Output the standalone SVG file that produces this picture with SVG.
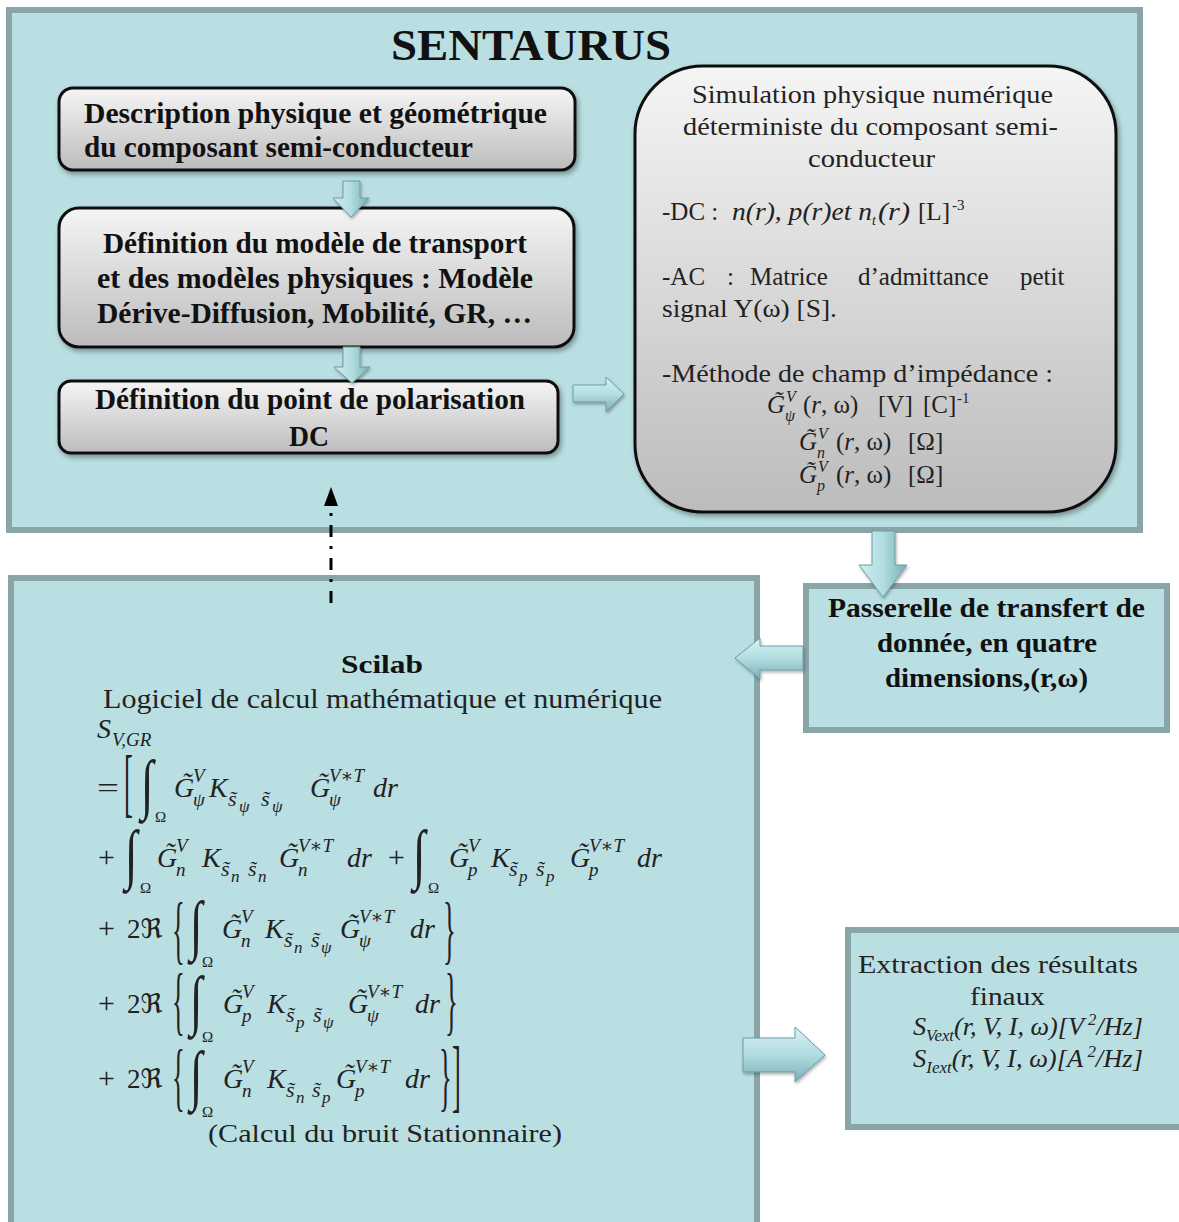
<svg xmlns="http://www.w3.org/2000/svg" width="1179" height="1222" viewBox="0 0 1179 1222">
<defs>
<style>
.cont{fill:#b9dfe2;stroke:#89a5a8;stroke-width:6}
.gbox{fill:url(#gGray);stroke:#111;stroke-width:3;filter:url(#sh)}
.bt{font-family:"Liberation Serif","DejaVu Serif",serif;font-weight:bold;fill:#111}
.rt{font-family:"Liberation Serif","DejaVu Serif",serif;fill:#222;font-size:25px}
.mi{font-family:"Liberation Serif","DejaVu Serif",serif;font-style:italic;font-size:28px;fill:#222}
.mu{font-family:"Liberation Serif","DejaVu Serif","DejaVu Sans",serif;font-size:27px;fill:#222}
.sp{font-family:"Liberation Serif","DejaVu Serif",serif;font-style:italic;font-size:19px;fill:#222}
.s2{font-family:"Liberation Serif","DejaVu Serif",serif;font-style:italic;font-size:22px;fill:#222}
.ss{font-family:"Liberation Serif","DejaVu Serif",serif;font-style:italic;font-size:17px;fill:#222}
.om{font-family:"Liberation Serif","DejaVu Serif",serif;font-size:15px;fill:#222}
.big{font-family:"Liberation Serif","DejaVu Serif",serif;fill:#222}
.ba{stroke:#6d9ea3;stroke-width:1;filter:url(#sh2)}
</style>
<linearGradient id="gGray" x1="0" y1="0" x2="0" y2="1">
<stop offset="0" stop-color="#f5f5f5"/><stop offset="1" stop-color="#bcbcbc"/>
</linearGradient>
<linearGradient id="gV" x1="0" y1="0" x2="1" y2="0">
<stop offset="0" stop-color="#cdeef0"/><stop offset="0.5" stop-color="#b2dde1"/><stop offset="1" stop-color="#78aeb3"/>
</linearGradient>
<linearGradient id="gH" x1="0" y1="0" x2="0" y2="1">
<stop offset="0" stop-color="#d6f2f4"/><stop offset="0.5" stop-color="#b2dde1"/><stop offset="1" stop-color="#7aafb4"/>
</linearGradient>
<filter id="sh" x="-10%" y="-10%" width="120%" height="130%">
<feDropShadow dx="2" dy="3" stdDeviation="2.5" flood-color="#000" flood-opacity="0.35"/>
</filter>
<filter id="sh2" x="-30%" y="-30%" width="160%" height="160%">
<feDropShadow dx="1" dy="2" stdDeviation="1.5" flood-color="#000" flood-opacity="0.3"/>
</filter>
</defs>
<rect width="1179" height="1222" fill="#fff"/>

<g id="sentaurus">
<rect class="cont" x="9" y="10" width="1131" height="520"/>
<text class="bt" x="391" y="60" font-size="44" textLength="280" lengthAdjust="spacingAndGlyphs">SENTAURUS</text>
</g>

<g id="scilab">
<rect class="cont" x="11" y="578" width="746" height="660"/>
<text class="bt" x="341" y="673" font-size="25" textLength="82" lengthAdjust="spacingAndGlyphs" fill="#222">Scilab</text>
<text class="rt" x="103" y="708" style="font-size:27px" textLength="559" lengthAdjust="spacingAndGlyphs">Logiciel de calcul mathématique et numérique</text>
<text class="mi" x="97" y="738">S</text><text class="sp" x="112" y="746">V,GR</text>
<!-- line 1 -->
<text class="mu" x="97" y="797" textLength="22" lengthAdjust="spacingAndGlyphs">=</text>
<text class="big" transform="translate(124,808) scale(0.7,2)" font-size="38">[</text>
<text class="big" transform="translate(141,806) scale(0.7,1)" font-size="66">∫</text>
<text class="om" x="155" y="822">Ω</text>
<text class="mi" x="174" y="797">G̃</text><text class="sp" x="193" y="782">V</text><text class="sp" x="193" y="806">ψ</text>
<text class="mi" x="209" y="797">K</text>
<text class="s2" x="228" y="806">s̃</text><text class="ss" x="239" y="812">ψ</text><text class="s2" x="261" y="806">s̃</text><text class="ss" x="272" y="812">ψ</text>
<text class="mi" x="310" y="797">G̃</text><text class="sp" x="329" y="782">V∗T</text><text class="sp" x="329" y="806">ψ</text>
<text class="mi" x="373" y="797">dr</text>
<!-- line 2 -->
<text class="mu" x="98" y="867" style="font-size:30px">+</text>
<text class="big" transform="translate(125,876) scale(0.7,1)" font-size="66">∫</text>
<text class="om" x="140" y="893">Ω</text>
<text class="mi" x="157" y="867">G̃</text><text class="sp" x="176" y="852">V</text><text class="sp" x="176" y="876">n</text>
<text class="mi" x="202" y="867">K</text>
<text class="s2" x="221" y="876">s̃</text><text class="ss" x="231" y="882">n</text><text class="s2" x="248" y="876">s̃</text><text class="ss" x="258" y="882">n</text>
<text class="mi" x="279" y="867">G̃</text><text class="sp" x="298" y="852">V∗T</text><text class="sp" x="298" y="876">n</text>
<text class="mi" x="347" y="867">dr</text>
<text class="mu" x="388" y="867" style="font-size:30px">+</text>
<text class="big" transform="translate(413,876) scale(0.7,1)" font-size="66">∫</text>
<text class="om" x="428" y="893">Ω</text>
<text class="mi" x="449" y="867">G̃</text><text class="sp" x="468" y="852">V</text><text class="sp" x="468" y="876">p</text>
<text class="mi" x="491" y="867">K</text>
<text class="s2" x="509" y="876">s̃</text><text class="ss" x="519" y="882">p</text><text class="s2" x="536" y="876">s̃</text><text class="ss" x="546" y="882">p</text>
<text class="mi" x="570" y="867">G̃</text><text class="sp" x="589" y="852">V∗T</text><text class="sp" x="589" y="876">p</text>
<text class="mi" x="637" y="867">dr</text>
<!-- line 3 -->
<text class="mu" x="98" y="938" style="font-size:30px">+</text>
<text class="mu" x="127" y="938">2ℜ</text>
<text class="big" transform="translate(172,955) scale(0.7,2)" font-size="38">{</text>
<text class="big" transform="translate(190,947) scale(0.7,1)" font-size="66">∫</text>
<text class="om" x="202" y="967">Ω</text>
<text class="mi" x="222" y="938">G̃</text><text class="sp" x="241" y="923">V</text><text class="sp" x="241" y="947">n</text>
<text class="mi" x="265" y="938">K</text>
<text class="s2" x="284" y="947">s̃</text><text class="ss" x="294" y="953">n</text><text class="s2" x="311" y="947">s̃</text><text class="ss" x="321" y="953">ψ</text>
<text class="mi" x="340" y="938">G̃</text><text class="sp" x="359" y="923">V∗T</text><text class="sp" x="359" y="947">ψ</text>
<text class="mi" x="410" y="938">dr</text>
<text class="big" transform="translate(443,955) scale(0.7,2)" font-size="38">}</text>
<!-- line 4 -->
<text class="mu" x="98" y="1013" style="font-size:30px">+</text>
<text class="mu" x="127" y="1013">2ℜ</text>
<text class="big" transform="translate(172,1026) scale(0.7,2)" font-size="38">{</text>
<text class="big" transform="translate(190,1022) scale(0.7,1)" font-size="66">∫</text>
<text class="om" x="202" y="1042">Ω</text>
<text class="mi" x="223" y="1013">G̃</text><text class="sp" x="242" y="998">V</text><text class="sp" x="242" y="1022">p</text>
<text class="mi" x="267" y="1013">K</text>
<text class="s2" x="286" y="1022">s̃</text><text class="ss" x="296" y="1028">p</text><text class="s2" x="313" y="1022">s̃</text><text class="ss" x="323" y="1028">ψ</text>
<text class="mi" x="348" y="1013">G̃</text><text class="sp" x="367" y="998">V∗T</text><text class="sp" x="367" y="1022">ψ</text>
<text class="mi" x="415" y="1013">dr</text>
<text class="big" transform="translate(445,1026) scale(0.7,2)" font-size="38">}</text>
<!-- line 5 -->
<text class="mu" x="98" y="1088" style="font-size:30px">+</text>
<text class="mu" x="127" y="1088">2ℜ</text>
<text class="big" transform="translate(172,1102) scale(0.7,2)" font-size="38">{</text>
<text class="big" transform="translate(190,1097) scale(0.7,1)" font-size="66">∫</text>
<text class="om" x="202" y="1117">Ω</text>
<text class="mi" x="223" y="1088">G̃</text><text class="sp" x="242" y="1073">V</text><text class="sp" x="242" y="1097">n</text>
<text class="mi" x="267" y="1088">K</text>
<text class="s2" x="286" y="1097">s̃</text><text class="ss" x="296" y="1103">n</text><text class="s2" x="312" y="1097">s̃</text><text class="ss" x="322" y="1103">p</text>
<text class="mi" x="336" y="1088">G̃</text><text class="sp" x="355" y="1073">V∗T</text><text class="sp" x="355" y="1097">p</text>
<text class="mi" x="405" y="1088">dr</text>
<text class="big" transform="translate(439,1102) scale(0.7,2)" font-size="38">}</text>
<text class="big" transform="translate(452,1102) scale(0.7,2.1)" font-size="38">]</text>
<text class="rt" x="208" y="1142" style="font-size:26px" textLength="354" lengthAdjust="spacingAndGlyphs">(Calcul du bruit Stationnaire)</text>
</g>

<g id="desc">
<rect class="gbox" x="59" y="88" width="516" height="82" rx="14"/>
<text class="bt" x="84" y="123" font-size="29" textLength="463" lengthAdjust="spacingAndGlyphs">Description physique et géométrique</text>
<text class="bt" x="84" y="157" font-size="29" textLength="389" lengthAdjust="spacingAndGlyphs">du composant semi-conducteur</text>
</g>

<g id="modele">
<rect class="gbox" x="59" y="208" width="515" height="139" rx="20"/>
<text class="bt" x="103" y="253" font-size="29" textLength="424" lengthAdjust="spacingAndGlyphs">Définition du modèle de transport</text>
<text class="bt" x="97" y="288" font-size="29" textLength="436" lengthAdjust="spacingAndGlyphs">et des modèles physiques : Modèle</text>
<text class="bt" x="97" y="323" font-size="29" textLength="435" lengthAdjust="spacingAndGlyphs">Dérive-Diffusion, Mobilité, GR, …</text>
</g>

<g id="polarisation">
<rect class="gbox" x="59" y="381" width="499" height="72" rx="12"/>
<text class="bt" x="95" y="409" font-size="29" textLength="430" lengthAdjust="spacingAndGlyphs">Définition du point de polarisation</text>
<text class="bt" x="289" y="446" font-size="29" textLength="40" lengthAdjust="spacingAndGlyphs">DC</text>
</g>

<g id="simulation">
<rect class="gbox" x="635" y="66" width="481" height="446" rx="68"/>
<text class="rt" x="692" y="103" textLength="361" lengthAdjust="spacingAndGlyphs">Simulation physique numérique</text>
<text class="rt" x="683" y="135" textLength="375" lengthAdjust="spacingAndGlyphs">déterministe du composant semi-</text>
<text class="rt" x="808" y="167" textLength="127" lengthAdjust="spacingAndGlyphs">conducteur</text>
<text class="rt" x="662" y="220">-DC :</text>
<text class="rt" x="732" y="220" font-style="italic" textLength="140" lengthAdjust="spacingAndGlyphs">n(r), p(r)et n</text>
<text class="rt" x="872" y="225" font-style="italic" style="font-size:14px">t</text>
<text class="rt" x="878" y="220" font-style="italic" textLength="32" lengthAdjust="spacingAndGlyphs">(r)</text>
<text class="rt" x="918" y="220" textLength="32" lengthAdjust="spacingAndGlyphs">[L]</text>
<text class="rt" x="952" y="210" style="font-size:15px">-3</text>
<text class="rt" y="285"><tspan x="662">-AC</tspan><tspan x="727">:</tspan><tspan x="750">Matrice</tspan><tspan x="858">d’admittance</tspan><tspan x="1020">petit</tspan></text>
<text class="rt" x="662" y="317" textLength="175" lengthAdjust="spacingAndGlyphs">signal Y(ω) [S].</text>
<text class="rt" x="662" y="382" textLength="391" lengthAdjust="spacingAndGlyphs">-Méthode de champ d’impédance :</text>
<text class="mi" x="767" y="413" style="font-size:25px">G̃</text><text class="sp" x="786" y="402" style="font-size:16px">V</text><text class="sp" x="785" y="421" style="font-size:16px">ψ</text>
<text class="rt" y="413"><tspan x="803">(<tspan font-style="italic">r</tspan>, ω)</tspan><tspan x="878">[V]</tspan><tspan x="923">[C]</tspan><tspan x="957" dy="-10" font-size="15">-1</tspan></text>
<text class="mi" x="799" y="450" style="font-size:25px">G̃</text><text class="sp" x="818" y="439" style="font-size:16px">V</text><text class="sp" x="817" y="458" style="font-size:16px">n</text>
<text class="rt" y="450"><tspan x="836">(<tspan font-style="italic">r</tspan>, ω)</tspan><tspan x="908">[Ω]</tspan></text>
<text class="mi" x="799" y="483" style="font-size:25px">G̃</text><text class="sp" x="818" y="472" style="font-size:16px">V</text><text class="sp" x="817" y="491" style="font-size:16px">p</text>
<text class="rt" y="483"><tspan x="836">(<tspan font-style="italic">r</tspan>, ω)</tspan><tspan x="908">[Ω]</tspan></text>
</g>

<g id="passerelle">
<rect class="cont" x="806" y="586" width="361" height="144"/>
<text class="bt" x="828" y="617" font-size="27" textLength="317" lengthAdjust="spacingAndGlyphs">Passerelle de transfert de</text>
<text class="bt" x="877" y="652" font-size="27" textLength="220" lengthAdjust="spacingAndGlyphs">donnée, en quatre</text>
<text class="bt" x="885" y="687" font-size="27" textLength="203" lengthAdjust="spacingAndGlyphs">dimensions,(r,ω)</text>
</g>

<g id="extraction">
<rect class="cont" x="848" y="930" width="345" height="197"/>
<text class="rt" x="858" y="973" textLength="280" lengthAdjust="spacingAndGlyphs">Extraction des résultats</text>
<text class="rt" x="970" y="1005" textLength="75" lengthAdjust="spacingAndGlyphs">finaux</text>
<text class="mi" x="913" y="1035" style="font-size:25px" textLength="230" lengthAdjust="spacingAndGlyphs">S<tspan dy="6" font-size="16">Vext</tspan><tspan dy="-6">(r, V, I, ω)[V</tspan><tspan dy="-10" font-size="16"> 2</tspan><tspan dy="10">/Hz]</tspan></text>
<text class="mi" x="913" y="1067" style="font-size:25px" textLength="230" lengthAdjust="spacingAndGlyphs">S<tspan dy="6" font-size="16">Iext</tspan><tspan dy="-6">(r, V, I, ω)[A</tspan><tspan dy="-10" font-size="16"> 2</tspan><tspan dy="10">/Hz]</tspan></text>
</g>

<g id="connectors">
<polygon class="ba" fill="url(#gV)" points="343,181 360,181 360,198 369,198 351,217 333,198 343,198"/>
<polygon class="ba" fill="url(#gV)" points="343,347 360,347 360,367 370,367 352,383 334,367 343,367"/>
<polygon class="ba" fill="url(#gH)" points="573,385 606,385 606,377 624,394 606,412 606,402 573,402"/>
<polygon class="ba" fill="url(#gV)" points="872,531 895,531 895,565 907,565 883,597 859,565 872,565"/>
<polygon class="ba" fill="url(#gH)" points="803,646 803,670 760,670 760,679 735,658 760,638 760,646"/>
<polygon class="ba" fill="url(#gH)" points="743,1038 795,1038 795,1027 825,1055 795,1082 795,1072 743,1072"/>
<line x1="331" y1="603" x2="331" y2="505" stroke="#000" stroke-width="3" stroke-dasharray="12 9 3 9"/>
<polygon points="324,506 338,506 331,487" fill="#000"/>
</g>
</svg>
